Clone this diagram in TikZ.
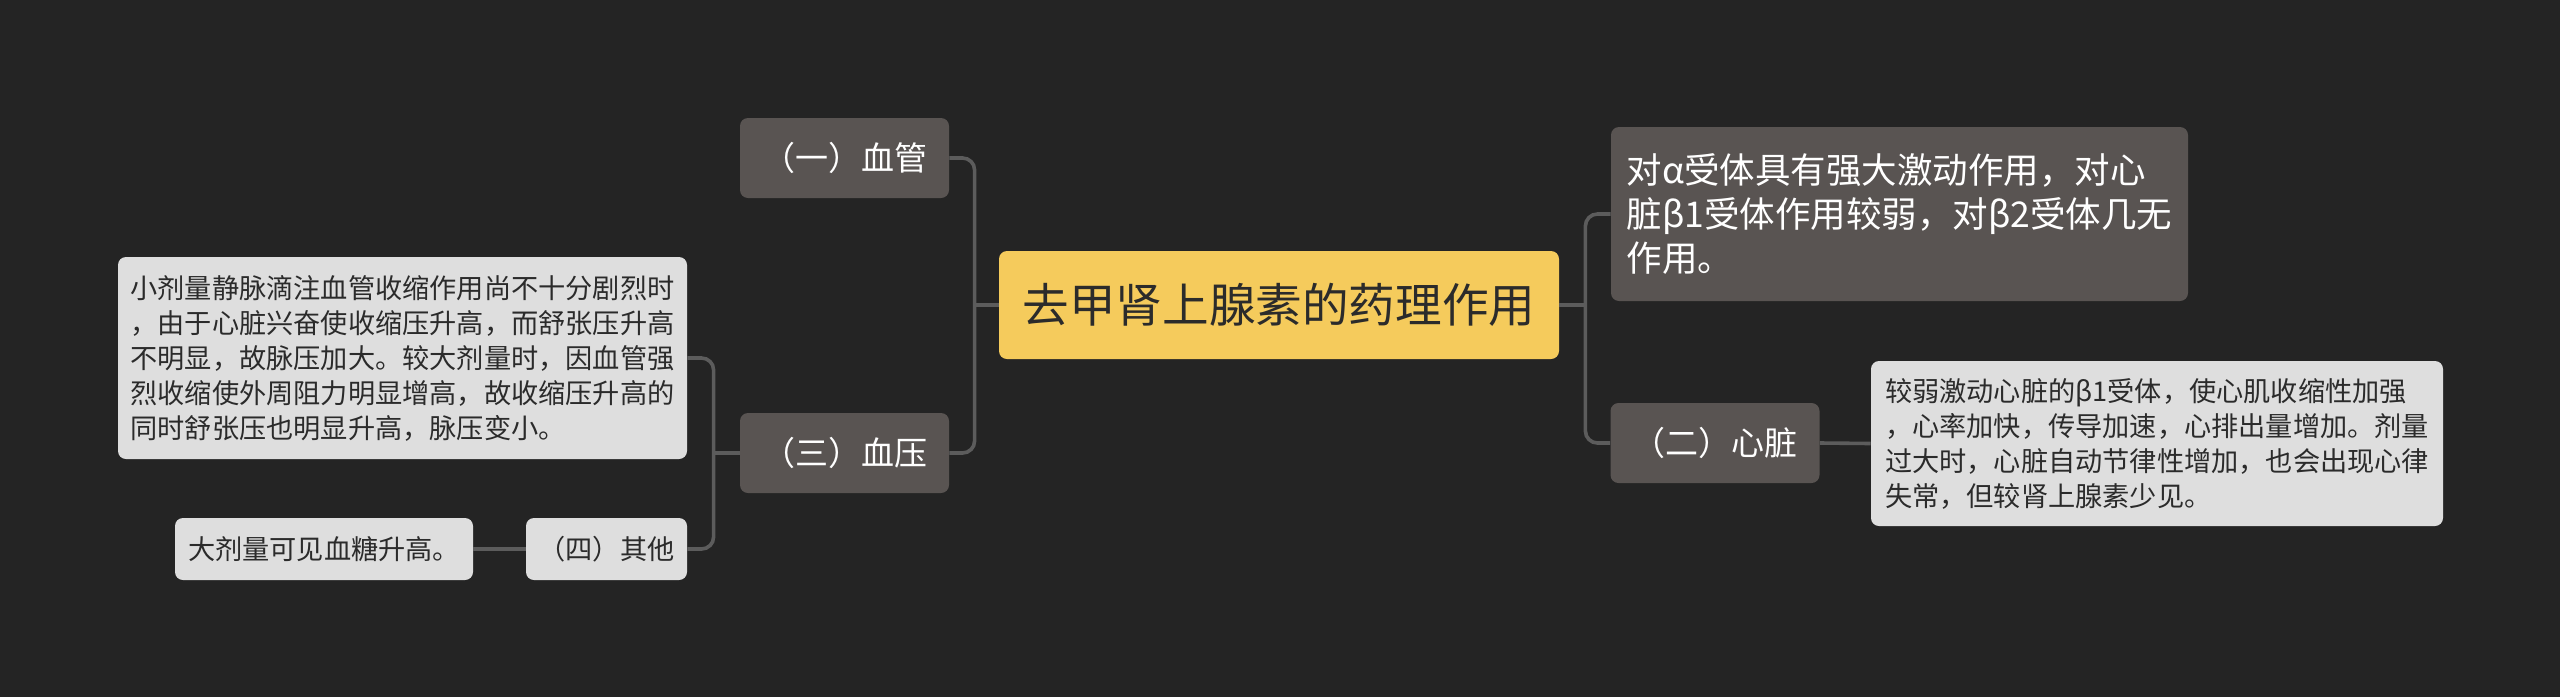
\documentclass[tikz,border=0pt]{standalone}
\usepackage{fontspec}
\setmainfont{Noto Sans CJK SC}
\usepackage{tikz}
\usetikzlibrary{calc}

\definecolor{bgdark}{HTML}{242424}
\definecolor{rootyellow}{HTML}{F5CB5C}
\definecolor{topicgray}{HTML}{595452}
\definecolor{leafgray}{HTML}{DEDEDE}
\definecolor{linkgray}{HTML}{5C5C5C}
\definecolor{inkdark}{HTML}{2B2B2B}

\tikzset{
  root/.style={fill=rootyellow, text=inkdark, rounded corners=4pt, inner sep=0pt,
    minimum width=280pt, minimum height=54pt, font=\fontsize{23.3}{28}\selectfont},
  topic/.style={fill=topicgray, text=white, rounded corners=4pt, inner sep=0pt,
    minimum width=104.5pt, minimum height=40pt, font=\fontsize{16.5}{20}\selectfont},
  topicnote/.style={fill=topicgray, text=white, rounded corners=4pt, inner sep=0pt,
    align=left, font=\fontsize{17.75}{22}\selectfont},
  leaf/.style={fill=leafgray, text=inkdark, rounded corners=4pt, inner sep=0pt,
    align=left, font=\fontsize{13.6}{17.5}\selectfont},
  link/.style={draw=linkgray, line width=1.8pt, rounded corners=6pt}
}

\begin{document}
\begin{tikzpicture}[x=0.5pt, y=-0.5pt]
      \fill[bgdark] (0,0) rectangle (2560,697);
      \useasboundingbox (0,0) rectangle (2560,697);

      % centre and main branches
      \node[root] (root) at (1279,305) {去甲肾上腺素的药理作用};
      \node[topic] (vessel) at (844.5,158) {（一）血管};
      \node[topic] (pressure) at (844.5,453) {（三）血压};
      \node[topic] (heart) at (1715,443) {（二）心脏};
      \node[topicnote, minimum width=288.5pt, minimum height=87pt] (alpha) at (1899.5,214)
        {对α受体具有强大激动作用，对心\\脏β1受体作用较弱，对β2受体几无\\作用。};

      % leaves
      \node[leaf, minimum width=284.5pt, minimum height=101pt] (pressnote) at (402.5,358)
        {小剂量静脉滴注血管收缩作用尚不十分剧烈时\\，由于心脏兴奋使收缩压升高，而舒张压升高\\不明显，故脉压加大。较大剂量时，因血管强\\烈收缩使外周阻力明显增高，故收缩压升高的\\同时舒张压也明显升高，脉压变小。};
      \node[leaf, minimum width=80.5pt, minimum height=31pt] (other) at (606.5,549) {（四）其他};
      \node[leaf, minimum width=149pt, minimum height=31pt] (sugar) at (324,549) {大剂量可见血糖升高。};
      \node[leaf, minimum width=286pt, minimum height=82.5pt] (heartnote) at (2157,443.5)
        {较弱激动心脏的β1受体，使心肌收缩性加强\\，心率加快，传导加速，心排出量增加。剂量\\过大时，心脏自动节律性增加，也会出现心律\\失常，但较肾上腺素少见。};

      % junctions
      \path (root.west) ++(-24,0) coordinate (rootl);
      \path (root.east) ++(26,0) coordinate (rootr);
      \path (pressure.west) ++(-26,0) coordinate (pressl);

      \draw[link] (root.west) -- (rootl);
      \draw[link] (vessel.east) -| (rootl) |- (pressure.east);
      \draw[link] (root.east) -- (rootr);
      \draw[link] (alpha.west) -| (rootr) |- (heart.west);
      \draw[link] (pressure.west) -- (pressl);
      \draw[link] (pressnote.east) -| (pressl) |- (other.east);
      \draw[link] (other.west) -- (sugar.east);
      \draw[link] (heart.east) -- (heartnote.west);
\end{tikzpicture}
\end{document}
